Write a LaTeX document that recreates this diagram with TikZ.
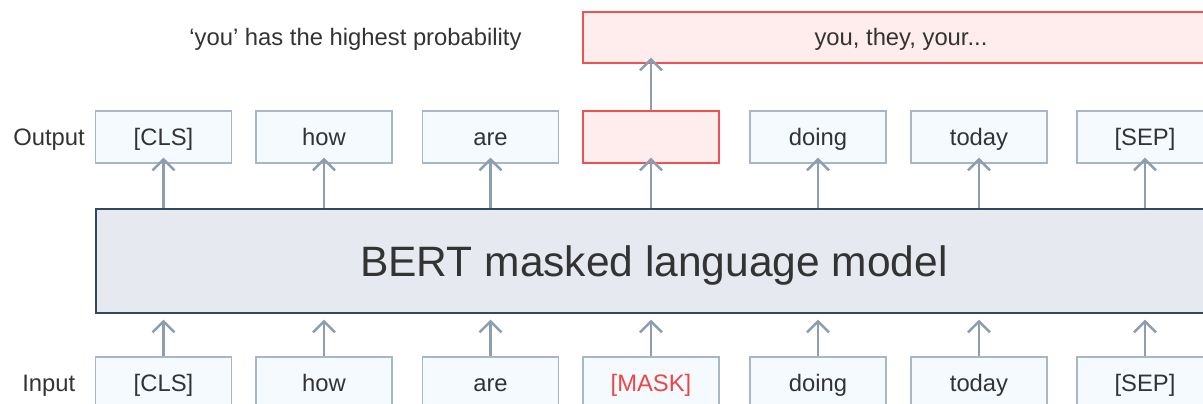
\documentclass[tikz,border=0pt]{standalone}
\usepackage{fontspec}
\setmainfont{Liberation Sans}
\usetikzlibrary{arrows.meta}
\definecolor{txt}{HTML}{333333}
\definecolor{tokfill}{HTML}{F5FAFF}
\definecolor{tokline}{HTML}{A9B6C6}
\definecolor{bertfill}{HTML}{E6E9EF}
\definecolor{bertline}{HTML}{34475C}
\definecolor{redfill}{HTML}{FFECEC}
\definecolor{redline}{HTML}{F05252}
\definecolor{arrowc}{HTML}{8E9DB0}
\definecolor{masktxt}{HTML}{F04545}
\begin{document}
\begin{tikzpicture}[x=1pt,y=-1pt,
  every node/.style={text=txt,font=\fontsize{23.8}{28}\selectfont,inner sep=0pt,
    text height=17pt,text depth=0pt},
  tok/.style={draw=tokline,fill=tokfill,line width=1.3pt,minimum width=136pt,minimum height=52pt},
  redbox/.style={draw=redline,fill=redfill,line width=1.3pt},
  bert/.style={draw=bertline,fill=bertfill,line width=1.3pt,minimum width=1116pt,minimum height=104pt,
    font=\fontsize{42.5}{48}\selectfont,text height=30.4pt},
  up/.style={draw=arrowc,line width=2.4pt,-{Straight Barb[length=11pt,width=22pt,line width=2.4pt]}},
  rowlabel/.style={anchor=east}]
\useasboundingbox (0,0) rectangle (1203,404);
\clip (0,0) rectangle (1203,404);

% model block
\node[bert] (bert) at (654,261) {BERT masked language model};

% output tokens
\node[tok] (o1) at (163.5,137) {[CLS]};
\node[tok] (o2) at (324,137) {how};
\node[tok] (o3) at (490.5,137) {are};
\node[tok,redbox] (o4) at (651,137) {};
\node[tok] (o5) at (818,137) {doing};
\node[tok] (o6) at (979,137) {today};
\node[tok] (o7) at (1145,137) {[SEP]};

% input tokens
\node[tok] (i1) at (163.5,383) {[CLS]};
\node[tok] (i2) at (324,383) {how};
\node[tok] (i3) at (490.5,383) {are};
\node[tok,text=masktxt] (i4) at (651,383) {[MASK]};
\node[tok] (i5) at (818,383) {doing};
\node[tok] (i6) at (979,383) {today};
\node[tok] (i7) at (1145,383) {[SEP]};

% predictions
\node[redbox,minimum width=636pt,minimum height=51pt] (pred) at (901,37.5) {you, they, your...};
\node (note) at (355.5,37) {‘you’ has the highest probability};

% row labels
\node[rowlabel] (outlbl) at (85,137) {Output};
\node[rowlabel] (inlbl) at (75.5,383) {Input};

% arrows
\foreach \k in {1,...,7}{
  \draw[up] (i\k.north) -- ([yshift=-6pt]i\k.north |- bert.south);
  \draw[up] (o\k.south |- bert.north) -- ([yshift=6pt]o\k.south);
}
\draw[up] (o4.north) -- ([yshift=6pt]pred.south -| o4.north);
\end{tikzpicture}
\end{document}
